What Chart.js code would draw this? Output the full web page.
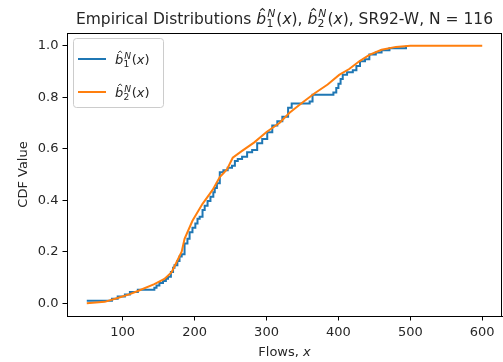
<!DOCTYPE html>
<html>
<head>
<meta charset="utf-8">
<script src="https://cdn.jsdelivr.net/npm/chart.js@4"></script>
<style>
  body { margin: 0; background: #fff; }
  #wrap { width: 503px; height: 362px; }
</style>
</head>
<body>
<div id="wrap"><canvas id="cdfChart" width="503" height="362"></canvas></div>
<script>
// empirical CDF of sample 1 (step curve)
var blueX = [50, 78, 85, 93, 103, 110, 121, 144, 147, 151, 156, 160, 163, 167, 170, 172, 176, 179, 182, 186, 190, 193, 197, 201, 204, 207, 211, 214, 218, 222, 226, 228, 231, 235, 240, 246, 252, 256, 260, 266, 273, 280, 287, 294, 301, 308, 315, 322, 330, 335, 360, 364, 393, 397, 400, 403, 406, 412, 420, 425, 430, 437, 443, 452, 460, 471, 494];
var blueY = [0.009, 0.009, 0.017, 0.026, 0.034, 0.043, 0.052, 0.06, 0.069, 0.078, 0.086, 0.095, 0.103, 0.121, 0.138, 0.147, 0.164, 0.181, 0.19, 0.232, 0.25, 0.276, 0.293, 0.31, 0.328, 0.336, 0.362, 0.379, 0.397, 0.414, 0.431, 0.448, 0.466, 0.509, 0.517, 0.526, 0.534, 0.552, 0.56, 0.569, 0.586, 0.595, 0.621, 0.638, 0.664, 0.69, 0.707, 0.724, 0.759, 0.776, 0.784, 0.81, 0.819, 0.836, 0.853, 0.871, 0.888, 0.897, 0.905, 0.922, 0.94, 0.948, 0.966, 0.974, 0.983, 0.991, 1.0];

// empirical CDF of sample 2
var orangeX = [50, 75, 93, 110, 121, 144, 158, 168, 175, 182, 186, 197, 211, 225, 235, 245, 253, 265, 283, 300, 318, 332, 350, 367, 385, 401, 415, 429, 443, 460, 480, 500, 600];
var orangeY = [0.0, 0.005, 0.02, 0.035, 0.047, 0.074, 0.094, 0.12, 0.16, 0.2, 0.25, 0.32, 0.386, 0.44, 0.49, 0.52, 0.565, 0.59, 0.625, 0.665, 0.7, 0.74, 0.78, 0.816, 0.85, 0.887, 0.91, 0.94, 0.965, 0.985, 0.996, 1.0, 1.0];

var xTicks = [100, 200, 300, 400, 500, 600];
var yTicks = [0.0, 0.2, 0.4, 0.6, 0.8, 1.0];

var seriesNames = ['1', '2'];
var seriesColors = ['#1f77b4', '#ff7f0e'];

var FONT = '"DejaVu Sans", sans-serif';
var TEXT = '#262626';

function toPoints(xs, ys) {
    return xs.map(function (x, i) { return { x: x, y: ys[i] }; });
}

// draws b-hat_k^N(x) ; returns width
function mathLabel(ctx, x, y, k, size, draw) {
    var cx = x;
    ctx.font = 'italic ' + size + 'px ' + FONT;
    var bw = ctx.measureText('b').width;
    if (draw) {
        ctx.fillText('b', cx, y);
        ctx.save();
        ctx.lineWidth = size * 0.07;
        ctx.beginPath();
        ctx.moveTo(cx + bw * 0.38, y - size * 0.86);
        ctx.lineTo(cx + bw * 0.62, y - size * 1.0);
        ctx.lineTo(cx + bw * 0.86, y - size * 0.86);
        ctx.stroke();
        ctx.restore();
    }
    cx += bw + size * 0.02;
    var s = size * 0.7;
    ctx.font = s + 'px ' + FONT;
    var subW = ctx.measureText(k).width;
    if (draw) ctx.fillText(k, cx, y + size * 0.22);
    ctx.font = 'italic ' + s + 'px ' + FONT;
    var supW = ctx.measureText('N').width;
    if (draw) ctx.fillText('N', cx + size * 0.05, y - size * 0.42);
    cx += Math.max(subW, supW + size * 0.05) + size * 0.06;
    var parts = [['(', false], ['x', true], [')', false]];
    parts.forEach(function (p) {
        ctx.font = (p[1] ? 'italic ' : '') + size + 'px ' + FONT;
        if (draw) ctx.fillText(p[0], cx, y);
        cx += ctx.measureText(p[0]).width;
    });
    return cx - x;
}

function plainText(ctx, x, y, txt, size, italic, draw) {
    ctx.font = (italic ? 'italic ' : '') + size + 'px ' + FONT;
    if (draw) ctx.fillText(txt, x, y);
    return ctx.measureText(txt).width;
}

function titleRun(ctx, x, y, draw) {
    var size = 15.5, cx = x;
    cx += plainText(ctx, cx, y, 'Empirical Distributions ', size, false, draw);
    cx += mathLabel(ctx, cx, y, '1', size, draw);
    cx += plainText(ctx, cx, y, ', ', size, false, draw);
    cx += mathLabel(ctx, cx, y, '2', size, draw);
    cx += plainText(ctx, cx, y, ', SR92-W, N = 116', size, false, draw);
    return cx - x;
}

var decorPlugin = {
    id: 'decor',
    afterDraw: function (chart) {
        var ctx = chart.ctx;
        var a = chart.chartArea;
        ctx.save();
        ctx.fillStyle = TEXT;
        ctx.strokeStyle = TEXT;
        ctx.textBaseline = 'alphabetic';
        ctx.textAlign = 'left';

        // frame
        ctx.lineWidth = 1;
        ctx.strokeStyle = '#000';
        ctx.strokeRect(Math.round(a.left) + 0.5, Math.round(a.top) + 0.5,
            Math.round(a.right - a.left) - 1, Math.round(a.bottom - a.top));
        ctx.strokeStyle = TEXT;

        // title
        var cxm = (a.left + a.right) / 2;
        var tw = titleRun(ctx, 0, 0, false);
        titleRun(ctx, cxm - tw / 2, 24, true);

        // x label
        var w1 = plainText(ctx, 0, 0, 'Flows, ', 13, false, false);
        var w2 = plainText(ctx, 0, 0, 'x', 13, true, false);
        var lx = cxm - (w1 + w2) / 2;
        plainText(ctx, lx, 356, 'Flows, ', 13, false, true);
        plainText(ctx, lx + w1, 356, 'x', 13, true, true);

        // y label
        ctx.save();
        ctx.translate(27, (a.top + a.bottom) / 2);
        ctx.rotate(-Math.PI / 2);
        ctx.font = '13px ' + FONT;
        ctx.textAlign = 'center';
        ctx.fillText('CDF Value', 0, 0);
        ctx.restore();

        // legend
        var bx = 73, by = 38, bw = 90, bh = 69, r = 3;
        ctx.fillStyle = 'rgba(255,255,255,0.8)';
        ctx.strokeStyle = '#cccccc';
        ctx.lineWidth = 1;
        ctx.beginPath();
        ctx.roundRect(bx + 0.5, by + 0.5, bw, bh, r);
        ctx.fill();
        ctx.stroke();
        var rows = [59, 92];
        seriesNames.forEach(function (k, i) {
            ctx.strokeStyle = seriesColors[i];
            ctx.lineWidth = 2;
            ctx.beginPath();
            ctx.moveTo(78, rows[i]);
            ctx.lineTo(106, rows[i]);
            ctx.stroke();
            ctx.fillStyle = TEXT;
            ctx.strokeStyle = TEXT;
            mathLabel(ctx, 115, rows[i] + 5, k, 13, true);
        });
        ctx.restore();
    }
};

new Chart(document.getElementById('cdfChart'), {
    type: 'line',
    data: {
        datasets: [{
            label: 'b1',
            data: toPoints(blueX, blueY),
            borderColor: seriesColors[0],
            borderWidth: 2,
            stepped: 'before',
            pointRadius: 0,
            fill: false,
            order: 1
        }, {
            label: 'b2',
            data: toPoints(orangeX, orangeY),
            borderColor: seriesColors[1],
            borderWidth: 2,
            pointRadius: 0,
            fill: false,
            tension: 0,
            order: 0
        }]
    },
    options: {
        responsive: false,
        animation: false,
        events: [],
        layout: { padding: { left: 0, right: 1, top: 33, bottom: 0 } },
        plugins: {
            legend: { display: false },
            title: { display: false },
            tooltip: { enabled: false }
        },
        scales: {
            x: {
                type: 'linear',
                min: 22.5,
                max: 627.5,
                afterBuildTicks: function (s) { s.ticks = xTicks.map(function (v) { return { value: v }; }); },
                afterFit: function (s) { s.height = 46; },
                grid: { drawOnChartArea: false, drawTicks: true, tickLength: 4.5, color: '#000' },
                border: { display: true, color: '#000', width: 1 },
                ticks: { color: TEXT, font: { family: 'DejaVu Sans', size: 13 }, padding: 4, maxRotation: 0 }
            },
            y: {
                type: 'linear',
                min: -0.05,
                max: 1.05,
                afterBuildTicks: function (s) { s.ticks = yTicks.map(function (v) { return { value: v }; }); },
                afterFit: function (s) { s.width = 67; },
                grid: { drawOnChartArea: false, drawTicks: true, tickLength: 4.5, color: '#000' },
                border: { display: true, color: '#000', width: 1 },
                ticks: {
                    color: TEXT,
                    font: { family: 'DejaVu Sans', size: 13 },
                    padding: 4,
                    callback: function (v) { return Number(v).toFixed(1); }
                }
            }
        }
    },
    plugins: [decorPlugin]
});
</script>
</body>
</html>
